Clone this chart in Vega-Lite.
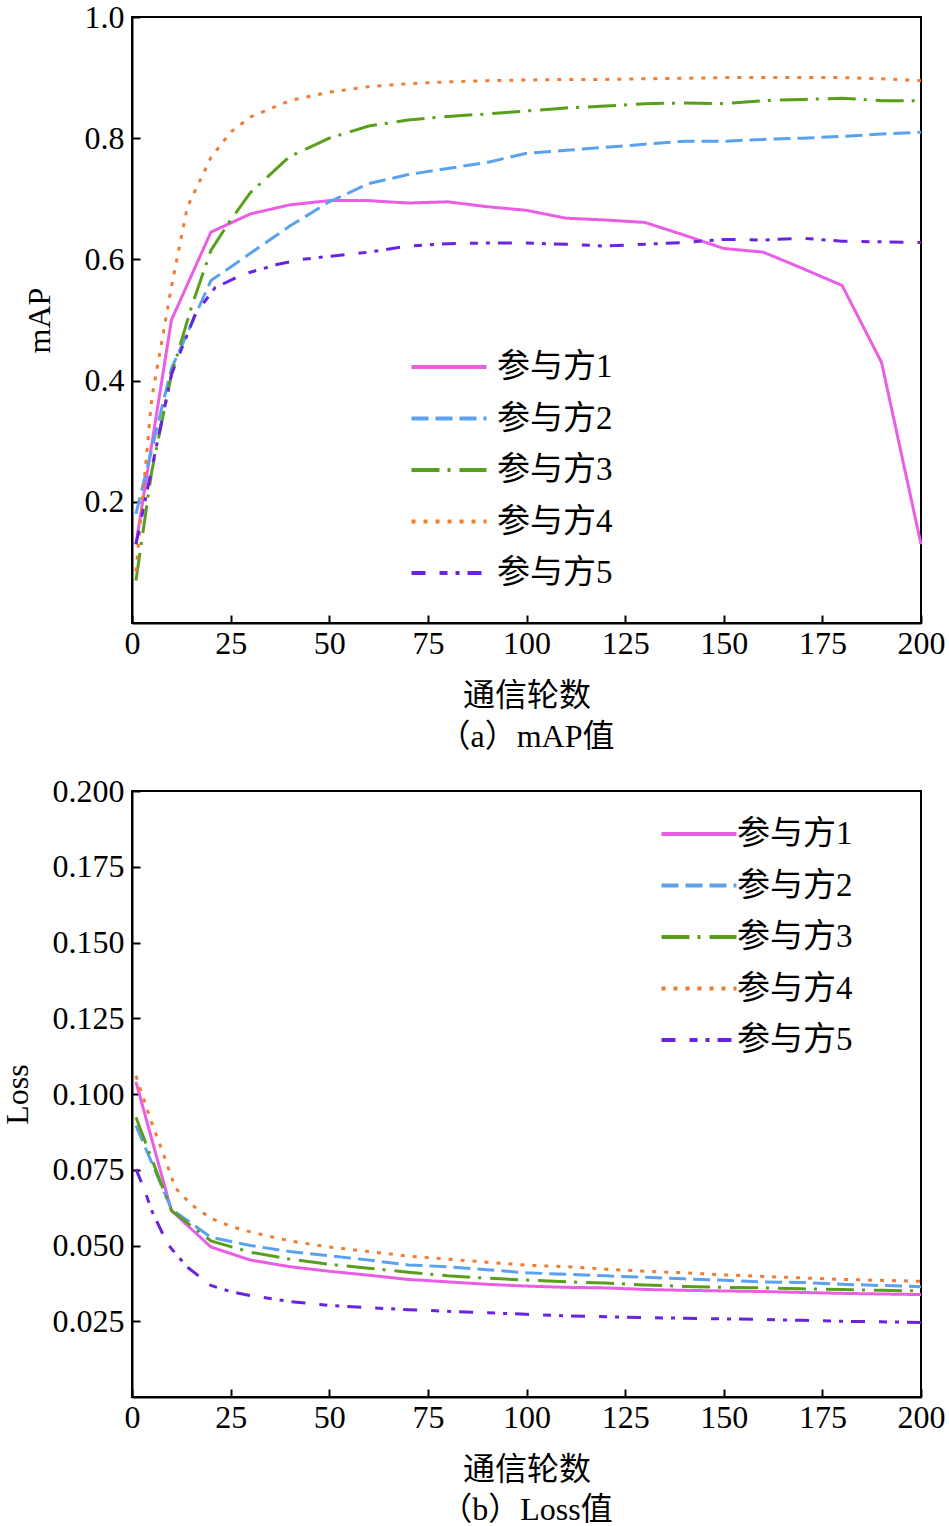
{
  "$schema": "https://vega.github.io/schema/vega-lite/v6.json",
  "padding": {"left": 0, "top": 0, "right": 0, "bottom": 0},
  "background": "white",
  "spacing": 168,
  "bounds": "flush",
  "datasets": {
    "map": [
      {"p":"参与方1","r":1,"v":0.13},{"p":"参与方1","r":10,"v":0.50},{"p":"参与方1","r":20,"v":0.645},{"p":"参与方1","r":30,"v":0.675},{"p":"参与方1","r":40,"v":0.69},{"p":"参与方1","r":50,"v":0.697},{"p":"参与方1","r":60,"v":0.697},{"p":"参与方1","r":70,"v":0.693},{"p":"参与方1","r":80,"v":0.695},{"p":"参与方1","r":90,"v":0.687},{"p":"参与方1","r":100,"v":0.681},{"p":"参与方1","r":110,"v":0.668},{"p":"参与方1","r":120,"v":0.665},{"p":"参与方1","r":130,"v":0.661},{"p":"参与方1","r":140,"v":0.64},{"p":"参与方1","r":150,"v":0.618},{"p":"参与方1","r":160,"v":0.612},{"p":"参与方1","r":170,"v":0.585},{"p":"参与方1","r":180,"v":0.557},{"p":"参与方1","r":190,"v":0.43},{"p":"参与方1","r":200,"v":0.13},
      {"p":"参与方2","r":1,"v":0.18},{"p":"参与方2","r":10,"v":0.42},{"p":"参与方2","r":20,"v":0.565},{"p":"参与方2","r":30,"v":0.61},{"p":"参与方2","r":40,"v":0.655},{"p":"参与方2","r":50,"v":0.695},{"p":"参与方2","r":60,"v":0.725},{"p":"参与方2","r":70,"v":0.74},{"p":"参与方2","r":80,"v":0.75},{"p":"参与方2","r":90,"v":0.76},{"p":"参与方2","r":100,"v":0.775},{"p":"参与方2","r":110,"v":0.78},{"p":"参与方2","r":120,"v":0.785},{"p":"参与方2","r":130,"v":0.79},{"p":"参与方2","r":140,"v":0.795},{"p":"参与方2","r":150,"v":0.795},{"p":"参与方2","r":160,"v":0.798},{"p":"参与方2","r":170,"v":0.80},{"p":"参与方2","r":180,"v":0.803},{"p":"参与方2","r":190,"v":0.807},{"p":"参与方2","r":200,"v":0.81},
      {"p":"参与方3","r":1,"v":0.07},{"p":"参与方3","r":5,"v":0.25},{"p":"参与方3","r":10,"v":0.41},{"p":"参与方3","r":15,"v":0.52},{"p":"参与方3","r":20,"v":0.615},{"p":"参与方3","r":25,"v":0.665},{"p":"参与方3","r":30,"v":0.71},{"p":"参与方3","r":40,"v":0.77},{"p":"参与方3","r":50,"v":0.80},{"p":"参与方3","r":60,"v":0.82},{"p":"参与方3","r":70,"v":0.83},{"p":"参与方3","r":80,"v":0.836},{"p":"参与方3","r":90,"v":0.84},{"p":"参与方3","r":100,"v":0.845},{"p":"参与方3","r":110,"v":0.85},{"p":"参与方3","r":120,"v":0.853},{"p":"参与方3","r":130,"v":0.857},{"p":"参与方3","r":140,"v":0.858},{"p":"参与方3","r":150,"v":0.857},{"p":"参与方3","r":160,"v":0.862},{"p":"参与方3","r":170,"v":0.864},{"p":"参与方3","r":180,"v":0.866},{"p":"参与方3","r":190,"v":0.862},{"p":"参与方3","r":200,"v":0.862},
      {"p":"参与方4","r":1,"v":0.085},{"p":"参与方4","r":5,"v":0.37},{"p":"参与方4","r":10,"v":0.555},{"p":"参与方4","r":14,"v":0.686},{"p":"参与方4","r":20,"v":0.768},{"p":"参与方4","r":25,"v":0.81},{"p":"参与方4","r":30,"v":0.835},{"p":"参与方4","r":40,"v":0.862},{"p":"参与方4","r":50,"v":0.876},{"p":"参与方4","r":60,"v":0.885},{"p":"参与方4","r":70,"v":0.89},{"p":"参与方4","r":80,"v":0.893},{"p":"参与方4","r":90,"v":0.895},{"p":"参与方4","r":100,"v":0.896},{"p":"参与方4","r":110,"v":0.897},{"p":"参与方4","r":120,"v":0.897},{"p":"参与方4","r":130,"v":0.898},{"p":"参与方4","r":140,"v":0.899},{"p":"参与方4","r":150,"v":0.9},{"p":"参与方4","r":160,"v":0.9},{"p":"参与方4","r":170,"v":0.9},{"p":"参与方4","r":180,"v":0.9},{"p":"参与方4","r":190,"v":0.898},{"p":"参与方4","r":200,"v":0.895},
      {"p":"参与方5","r":1,"v":0.13},{"p":"参与方5","r":10,"v":0.41},{"p":"参与方5","r":16,"v":0.509},{"p":"参与方5","r":21,"v":0.553},{"p":"参与方5","r":28,"v":0.575},{"p":"参与方5","r":37,"v":0.592},{"p":"参与方5","r":43,"v":0.6},{"p":"参与方5","r":50,"v":0.605},{"p":"参与方5","r":60,"v":0.612},{"p":"参与方5","r":70,"v":0.622},{"p":"参与方5","r":80,"v":0.626},{"p":"参与方5","r":90,"v":0.627},{"p":"参与方5","r":100,"v":0.627},{"p":"参与方5","r":110,"v":0.625},{"p":"参与方5","r":120,"v":0.622},{"p":"参与方5","r":130,"v":0.625},{"p":"参与方5","r":140,"v":0.628},{"p":"参与方5","r":150,"v":0.633},{"p":"参与方5","r":160,"v":0.632},{"p":"参与方5","r":170,"v":0.635},{"p":"参与方5","r":180,"v":0.63},{"p":"参与方5","r":190,"v":0.629},{"p":"参与方5","r":200,"v":0.628}
    ],
    "loss": [
      {"p":"参与方1","r":1,"v":0.104},{"p":"参与方1","r":10,"v":0.0615},{"p":"参与方1","r":20,"v":0.0495},{"p":"参与方1","r":30,"v":0.0452},{"p":"参与方1","r":40,"v":0.043},{"p":"参与方1","r":50,"v":0.0415},{"p":"参与方1","r":60,"v":0.0402},{"p":"参与方1","r":70,"v":0.0388},{"p":"参与方1","r":80,"v":0.038},{"p":"参与方1","r":90,"v":0.0372},{"p":"参与方1","r":100,"v":0.0366},{"p":"参与方1","r":110,"v":0.0362},{"p":"参与方1","r":120,"v":0.036},{"p":"参与方1","r":130,"v":0.0355},{"p":"参与方1","r":140,"v":0.0352},{"p":"参与方1","r":150,"v":0.035},{"p":"参与方1","r":160,"v":0.0348},{"p":"参与方1","r":170,"v":0.0345},{"p":"参与方1","r":180,"v":0.0342},{"p":"参与方1","r":190,"v":0.034},{"p":"参与方1","r":200,"v":0.0338},
      {"p":"参与方2","r":1,"v":0.0896},{"p":"参与方2","r":10,"v":0.062},{"p":"参与方2","r":20,"v":0.0527},{"p":"参与方2","r":30,"v":0.05},{"p":"参与方2","r":40,"v":0.048},{"p":"参与方2","r":50,"v":0.0466},{"p":"参与方2","r":60,"v":0.0452},{"p":"参与方2","r":70,"v":0.0436},{"p":"参与方2","r":80,"v":0.043},{"p":"参与方2","r":90,"v":0.042},{"p":"参与方2","r":100,"v":0.041},{"p":"参与方2","r":110,"v":0.0405},{"p":"参与方2","r":120,"v":0.04},{"p":"参与方2","r":130,"v":0.0395},{"p":"参与方2","r":140,"v":0.039},{"p":"参与方2","r":150,"v":0.0385},{"p":"参与方2","r":160,"v":0.038},{"p":"参与方2","r":170,"v":0.0378},{"p":"参与方2","r":180,"v":0.0372},{"p":"参与方2","r":190,"v":0.0368},{"p":"参与方2","r":200,"v":0.0364},
      {"p":"参与方3","r":1,"v":0.0923},{"p":"参与方3","r":10,"v":0.0615},{"p":"参与方3","r":20,"v":0.0515},{"p":"参与方3","r":30,"v":0.0478},{"p":"参与方3","r":40,"v":0.0455},{"p":"参与方3","r":50,"v":0.0438},{"p":"参与方3","r":60,"v":0.0425},{"p":"参与方3","r":70,"v":0.0412},{"p":"参与方3","r":80,"v":0.04},{"p":"参与方3","r":90,"v":0.0392},{"p":"参与方3","r":100,"v":0.0386},{"p":"参与方3","r":110,"v":0.038},{"p":"参与方3","r":120,"v":0.0376},{"p":"参与方3","r":130,"v":0.037},{"p":"参与方3","r":140,"v":0.0365},{"p":"参与方3","r":150,"v":0.0362},{"p":"参与方3","r":160,"v":0.036},{"p":"参与方3","r":170,"v":0.0357},{"p":"参与方3","r":180,"v":0.0355},{"p":"参与方3","r":190,"v":0.0352},{"p":"参与方3","r":200,"v":0.035},
      {"p":"参与方4","r":1,"v":0.106},{"p":"参与方4","r":5,"v":0.0905},{"p":"参与方4","r":8,"v":0.08},{"p":"参与方4","r":11,"v":0.069},{"p":"参与方4","r":15,"v":0.0635},{"p":"参与方4","r":20,"v":0.059},{"p":"参与方4","r":25,"v":0.0563},{"p":"参与方4","r":30,"v":0.0545},{"p":"参与方4","r":40,"v":0.0515},{"p":"参与方4","r":50,"v":0.0495},{"p":"参与方4","r":60,"v":0.048},{"p":"参与方4","r":70,"v":0.0465},{"p":"参与方4","r":80,"v":0.0455},{"p":"参与方4","r":90,"v":0.0445},{"p":"参与方4","r":100,"v":0.0435},{"p":"参与方4","r":110,"v":0.043},{"p":"参与方4","r":120,"v":0.0422},{"p":"参与方4","r":130,"v":0.0415},{"p":"参与方4","r":140,"v":0.041},{"p":"参与方4","r":150,"v":0.0403},{"p":"参与方4","r":160,"v":0.0398},{"p":"参与方4","r":170,"v":0.0393},{"p":"参与方4","r":180,"v":0.0388},{"p":"参与方4","r":190,"v":0.0385},{"p":"参与方4","r":200,"v":0.0382},
      {"p":"参与方5","r":1,"v":0.0752},{"p":"参与方5","r":3,"v":0.069},{"p":"参与方5","r":5,"v":0.0615},{"p":"参与方5","r":9,"v":0.0505},{"p":"参与方5","r":14,"v":0.0429},{"p":"参与方5","r":20,"v":0.0368},{"p":"参与方5","r":25,"v":0.0348},{"p":"参与方5","r":30,"v":0.0335},{"p":"参与方5","r":40,"v":0.0315},{"p":"参与方5","r":50,"v":0.0302},{"p":"参与方5","r":60,"v":0.0295},{"p":"参与方5","r":70,"v":0.0288},{"p":"参与方5","r":80,"v":0.0283},{"p":"参与方5","r":90,"v":0.0278},{"p":"参与方5","r":100,"v":0.0273},{"p":"参与方5","r":110,"v":0.0268},{"p":"参与方5","r":120,"v":0.0265},{"p":"参与方5","r":130,"v":0.0262},{"p":"参与方5","r":140,"v":0.026},{"p":"参与方5","r":150,"v":0.0258},{"p":"参与方5","r":160,"v":0.0256},{"p":"参与方5","r":170,"v":0.0253},{"p":"参与方5","r":180,"v":0.025},{"p":"参与方5","r":190,"v":0.0248},{"p":"参与方5","r":200,"v":0.0246}
    ]
  },
  "vconcat": [
    {
      "width": 789,
      "height": 606,
      "data": {"name": "map"},
      "title": {"text": "（a）mAP值", "orient": "bottom", "frame": "group", "baseline": "top", "offset": 11, "fontSize": 32, "fontWeight": "normal", "font": "Liberation Serif, Noto Sans CJK SC", "color": "black"},
      "mark": {"type": "line", "strokeWidth": 3},
      "encoding": {
        "x": {"field": "r", "type": "quantitative", "scale": {"domain": [0, 200], "nice": false},
              "axis": {"title": "通信轮数", "values": [0,25,50,75,100,125,150,175,200], "labelFlush": false, "labelPadding": 13, "titlePadding": 21,
                       "encode": {"labels": {"update": {"align": {"signal": "datum.value === 0 ? 'right' : 'center'"}, "dx": {"signal": "datum.value === 0 ? -6 : 0"}}}}}},
        "y": {"field": "v", "type": "quantitative", "scale": {"domain": [0, 1], "nice": false},
              "axis": {"title": "mAP", "values": [0.2,0.4,0.6,0.8,1.0], "format": ".1f", "labelPadding": 16, "titlePadding": 28}},
        "color": {"field": "p", "type": "nominal",
                  "scale": {"domain": ["参与方1","参与方2","参与方3","参与方4","参与方5"], "range": ["#ea5ee6","#5aa2ee","#58a01c","#f07c34","#6a24e0"]},
                  "legend": {"orient": "none", "legendX": 300, "legendY": 333, "title": null, "symbolType": "M-2.5,0H2.5", "symbolSize": 900, "symbolStrokeWidth": 4, "labelFontSize": 33, "labelFont": "Liberation Serif, Noto Sans CJK SC", "labelColor": "black", "rowPadding": 17.5, "labelOffset": 31}},
        "strokeDash": {"field": "p", "type": "nominal",
                  "scale": {"domain": ["参与方1","参与方2","参与方3","参与方4","参与方5"], "range": [[1,0],[17,7],[28,8,3,9],[4,8],[14,14,8,8,4,8]]},
                  "legend": {"orient": "none", "legendX": 300, "legendY": 333, "title": null, "symbolType": "M-2.5,0H2.5", "symbolSize": 900, "symbolStrokeWidth": 4, "labelFontSize": 33, "labelFont": "Liberation Serif, Noto Sans CJK SC", "labelColor": "black", "rowPadding": 17.5, "labelOffset": 31}}
      }
    },
    {
      "width": 789,
      "height": 606,
      "data": {"name": "loss"},
      "title": {"text": "（b）Loss值", "orient": "bottom", "frame": "group", "baseline": "top", "offset": 10, "fontSize": 32, "fontWeight": "normal", "font": "Liberation Serif, Noto Sans CJK SC", "color": "black"},
      "mark": {"type": "line", "strokeWidth": 3},
      "encoding": {
        "x": {"field": "r", "type": "quantitative", "scale": {"domain": [0, 200], "nice": false},
              "axis": {"title": "通信轮数", "values": [0,25,50,75,100,125,150,175,200], "labelFlush": false, "labelPadding": 13, "titlePadding": 21,
                       "encode": {"labels": {"update": {"align": {"signal": "datum.value === 0 ? 'right' : 'center'"}, "dx": {"signal": "datum.value === 0 ? -6 : 0"}}}}}},
        "y": {"field": "v", "type": "quantitative", "scale": {"domain": [0, 0.2], "nice": false},
              "axis": {"title": "Loss", "values": [0.025,0.05,0.075,0.1,0.125,0.15,0.175,0.2], "format": ".3f", "labelPadding": 16, "titlePadding": 18}},
        "color": {"field": "p", "type": "nominal",
                  "scale": {"domain": ["参与方1","参与方2","参与方3","参与方4","参与方5"], "range": ["#ea5ee6","#5aa2ee","#58a01c","#f07c34","#6a24e0"]},
                  "legend": {"orient": "none", "legendX": 550, "legendY": 26, "title": null, "symbolType": "M-2.5,0H2.5", "symbolSize": 900, "symbolStrokeWidth": 4, "labelFontSize": 33, "labelFont": "Liberation Serif, Noto Sans CJK SC", "labelColor": "black", "rowPadding": 17.5, "labelOffset": 21}},
        "strokeDash": {"field": "p", "type": "nominal",
                  "scale": {"domain": ["参与方1","参与方2","参与方3","参与方4","参与方5"], "range": [[1,0],[17,7],[28,8,3,9],[4,8],[14,14,8,8,4,8]]},
                  "legend": {"orient": "none", "legendX": 550, "legendY": 26, "title": null, "symbolType": "M-2.5,0H2.5", "symbolSize": 900, "symbolStrokeWidth": 4, "labelFontSize": 33, "labelFont": "Liberation Serif, Noto Sans CJK SC", "labelColor": "black", "rowPadding": 17.5, "labelOffset": 21}}
      }
    }
  ],
  "resolve": {"scale": {"y": "independent", "color": "independent", "strokeDash": "independent"}, "legend": {"color": "independent", "strokeDash": "independent"}},
  "config": {
    "font": "Liberation Serif, Noto Sans CJK SC",
    "view": {"stroke": "black", "strokeWidth": 2},
    "axis": {"domainColor": "black", "domainWidth": 2, "tickColor": "black", "tickWidth": 2, "tickSize": -8, "labelFontSize": 32, "labelColor": "black", "labelFont": "Liberation Serif", "titleFontSize": 32, "titleFontWeight": "normal", "titleColor": "black", "titleFont": "Liberation Serif, Noto Sans CJK SC", "grid": false, "labelOverlap": false}
  }
}
